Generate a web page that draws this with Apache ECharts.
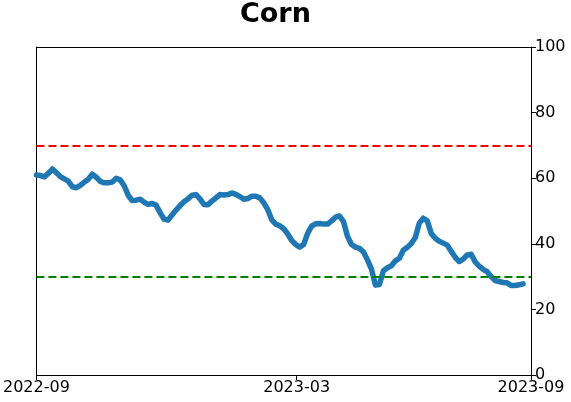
<!DOCTYPE html>
<html>
<head>
<meta charset="utf-8">
<script src="https://cdn.jsdelivr.net/npm/echarts@6/dist/echarts.min.js"></script>
<style>
  html, body { margin: 0; padding: 0; background: #fff; }
  #chart { width: 571px; height: 402px; }
</style>
</head>
<body>
<div id="chart"></div>
<script>
// corn readings, one per step from 2022-09 onward
var cornValues = [
  61.0, 60.8, 60.4, 61.5, 62.8, 61.7, 60.5, 59.8, 59.1, 57.4,
  57.1, 57.8, 58.8, 59.7, 61.2, 60.3, 59.0, 58.6, 58.6, 58.8,
  60.0, 59.5, 57.7, 54.8, 53.2, 53.3, 53.6, 52.7, 52.0, 52.3,
  51.8, 49.5, 47.5, 47.2, 48.8, 50.3, 51.6, 52.8, 53.7, 54.8,
  55.0, 53.7, 52.0, 51.9, 53.0, 54.0, 55.0, 54.9, 55.0, 55.5,
  55.1, 54.4, 53.6, 53.8, 54.5, 54.5, 54.0, 52.5, 50.4, 47.3,
  46.0, 45.5, 44.6, 43.0, 41.0, 39.8, 39.0, 39.8, 43.2, 45.4,
  46.1, 46.2, 46.0, 46.0, 47.0, 48.1, 48.5, 46.7, 42.2, 39.8,
  39.0, 38.6, 37.5, 35.1, 32.3, 27.4, 27.6, 31.8, 32.7, 33.3,
  34.8, 35.6, 38.1, 38.9, 40.1, 41.9, 46.3, 47.8, 47.0, 43.1,
  41.7, 40.8, 40.2, 39.6, 37.7, 35.9, 34.6, 35.3, 36.6, 36.8,
  34.5, 33.2, 32.2, 31.5, 30.0, 28.8, 28.5, 28.2, 28.1, 27.3,
  27.3, 27.5, 27.8
];
var tickLabels = ['2022-09', '2023-03', '2023-09'];
var tickSteps = [0, 65.25, 124];
var upperLevel = 70;
var lowerLevel = 30;

var seriesData = cornValues.map(function (v, i) { return [i, v]; });

var chart = echarts.init(document.getElementById('chart'));
chart.setOption({
  animation: false,
  backgroundColor: '#fff',
  title: {
    text: 'Corn',
    left: 235,
    top: -4,
    textStyle: { fontFamily: 'DejaVu Sans', fontWeight: 'bold', fontSize: 27, color: '#000' }
  },
  grid: {
    left: 35, right: 40, top: 47, bottom: 27,
    show: false
  },
  xAxis: [{
    type: 'value',
    min: 0,
    max: 124,
    splitLine: { show: false },
    axisLine: { onZero: false, lineStyle: { color: '#000', width: 1 } },
    axisTick: { customValues: tickSteps, inside: false, length: 5, lineStyle: { color: '#000' } },
    axisLabel: {
      customValues: tickSteps,
      color: '#000', fontFamily: 'DejaVu Sans', fontSize: 16, margin: 5,
      formatter: function (v) {
        var k = tickSteps.indexOf(v);
        return k >= 0 ? tickLabels[k] : '';
      }
    }
  }, {
    // top frame edge
    type: 'value', position: 'top', min: 0, max: 124,
    splitLine: { show: false },
    axisLine: { onZero: false, lineStyle: { color: '#000', width: 1 } },
    axisTick: { show: false }, axisLabel: { show: false }
  }],
  yAxis: [{
    type: 'value',
    position: 'right',
    min: 0,
    max: 100,
    interval: 20,
    splitLine: { show: false },
    axisLine: { show: true, onZero: false, lineStyle: { color: '#000', width: 1 } },
    axisTick: { show: true, inside: false, length: 5, lineStyle: { color: '#000' } },
    axisLabel: { color: '#000', fontFamily: 'DejaVu Sans', fontSize: 16, margin: 4 }
  }, {
    // left frame edge
    type: 'value', position: 'left', min: 0, max: 100,
    splitLine: { show: false },
    axisLine: { show: true, onZero: false, lineStyle: { color: '#000', width: 1 } },
    axisTick: { show: false }, axisLabel: { show: false }
  }],
  series: [
    {
      type: 'line',
      data: seriesData,
      showSymbol: false,
      smooth: false,
      lineStyle: { color: '#1f77b4', width: 5.5, cap: 'round', join: 'round' },
      markLine: {
        silent: true,
        symbol: ['none', 'none'],
        label: { show: false },
        data: [
          { yAxis: upperLevel, lineStyle: { color: '#ff0000', type: [8, 4], width: 2 } },
          { yAxis: lowerLevel, lineStyle: { color: '#008000', type: [8, 4], width: 2 } }
        ]
      }
    }
  ]
});
</script>
</body>
</html>
